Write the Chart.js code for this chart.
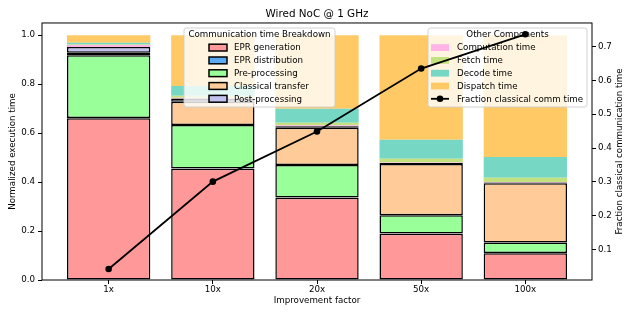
<!DOCTYPE html>
<html>
<head>
<meta charset="utf-8">
<script src="https://cdn.jsdelivr.net/npm/chart.js@4.4.0/dist/chart.umd.min.js"></script>
<style>
  body { margin: 0; background: #fff; }
  #wrap { width: 634px; height: 317px; }
</style>
</head>
<body>
<div id="wrap"><canvas id="chart1" width="634" height="317"></canvas></div>
<script>
const categories = ['1x', '10x', '20x', '50x', '100x'];

// communication time breakdown (left axis, normalized)
const eprGen    = [0.661, 0.454, 0.336, 0.189, 0.109];
const eprDist   = [0.001, 0.001, 0.001, 0.001, 0.001];
const preProc   = [0.256, 0.178, 0.133, 0.075, 0.043];
const classical = [0.010, 0.095, 0.152, 0.209, 0.242];
const postProc  = [0.024, 0.013, 0.006, 0.004, 0.003];

// other components
const computeT  = [0.008, 0.004, 0.004, 0.002, 0.002];
const fetchT    = [0.002, 0.008, 0.010, 0.015, 0.018];
const decodeT   = [0.007, 0.040, 0.058, 0.078, 0.085];
const dispatchT = [0.031, 0.207, 0.300, 0.427, 0.497];

// right axis
const fracComm = [0.043, 0.301, 0.449, 0.635, 0.736];

const leftTicks = [0, 0.2, 0.4, 0.6, 0.8, 1.0];
const rightTicks = [0.1, 0.2, 0.3, 0.4, 0.5, 0.6, 0.7];

const FONT = 'DejaVu Sans';
const FS = 8.7;

function pts(arr) {
    return arr.map((v, i) => ({x: i, y: v}));
}

function commBar(label, arr, color) {
    return {type: 'bar', label: label, data: pts(arr), backgroundColor: color,
        borderColor: '#000', borderWidth: 1.5, borderSkipped: false,
        yAxisID: 'y', stack: 's', legendGroup: 1};
}
function otherBar(label, arr, color) {
    return {type: 'bar', label: label, data: pts(arr), backgroundColor: color,
        borderWidth: 0, yAxisID: 'y', stack: 's', legendGroup: 2};
}

const datasets = [
    commBar('EPR generation', eprGen, '#ff9999'),
    commBar('EPR distribution', eprDist, '#5aa9f2'),
    commBar('Pre-processing', preProc, '#99ff99'),
    commBar('Classical transfer', classical, '#ffcc99'),
    commBar('Post-processing', postProc, '#c2c2f0'),
    otherBar('Computation time', computeT, '#ffb3e6'),
    otherBar('Fetch time', fetchT, '#c4e17f'),
    otherBar('Decode time', decodeT, '#76d7c4'),
    otherBar('Dispatch time', dispatchT, '#ffc966'),
    {type: 'line', label: 'Fraction classical comm time', data: pts(fracComm),
        borderColor: '#000', backgroundColor: '#000', borderWidth: 1.8,
        pointRadius: 3.3, pointBorderWidth: 0, yAxisID: 'y1', order: -1, legendGroup: 2}
];

function roundRect(ctx, x, y, w, h, r) {
    ctx.beginPath();
    ctx.moveTo(x + r, y);
    ctx.lineTo(x + w - r, y);
    ctx.arcTo(x + w, y, x + w, y + r, r);
    ctx.lineTo(x + w, y + h - r);
    ctx.arcTo(x + w, y + h, x + w - r, y + h, r);
    ctx.lineTo(x + r, y + h);
    ctx.arcTo(x, y + h, x, y + h - r, r);
    ctx.lineTo(x, y + r);
    ctx.arcTo(x, y, x + r, y, r);
    ctx.closePath();
}

function drawLegend(ctx, chart, group, title, box, patchX, textX) {
    ctx.save();
    roundRect(ctx, box.x, box.y, box.w, box.h, 2.5);
    ctx.fillStyle = 'rgba(255,255,255,0.8)';
    ctx.fill();
    ctx.strokeStyle = 'rgba(204,204,204,0.9)';
    ctx.lineWidth = 1;
    ctx.stroke();
    ctx.font = FS + 'px "' + FONT + '"';
    ctx.fillStyle = '#000';
    ctx.textBaseline = 'middle';
    ctx.textAlign = 'center';
    ctx.fillText(title, box.x + box.w / 2, box.y + 6.8);
    ctx.textAlign = 'left';
    let y = box.y + 19.6;
    chart.data.datasets.forEach((ds) => {
        if (ds.legendGroup !== group) return;
        if (ds.type === 'line') {
            ctx.strokeStyle = '#000';
            ctx.lineWidth = 1.8;
            ctx.beginPath();
            ctx.moveTo(patchX, y);
            ctx.lineTo(patchX + 18, y);
            ctx.stroke();
            ctx.beginPath();
            ctx.arc(patchX + 9, y, 3.3, 0, Math.PI * 2);
            ctx.fillStyle = '#000';
            ctx.fill();
        } else {
            ctx.fillStyle = ds.backgroundColor;
            ctx.fillRect(patchX, y - 3.4, 18, 6.8);
            if (ds.borderWidth > 0) {
                ctx.strokeStyle = '#000';
                ctx.lineWidth = 1.5;
                ctx.strokeRect(patchX, y - 3.4, 18, 6.8);
            }
        }
        ctx.fillStyle = '#000';
        ctx.fillText(ds.label, textX, y + 0.5);
        y += 12.8;
    });
    ctx.restore();
}

const extrasPlugin = {
    id: 'extras',
    beforeDatasetDraw(chart, args) {
        // legends sit above the bars but under the line
        if (chart.data.datasets[args.index].type !== 'line') return;
        const ctx = chart.ctx;
        drawLegend(ctx, chart, 1, 'Communication time Breakdown',
            {x: 184, y: 28, w: 151, h: 79}, 209, 234);
        drawLegend(ctx, chart, 2, 'Other Components',
            {x: 428, y: 28, w: 159, h: 79}, 431, 457);
    },
    afterDraw(chart) {
        const ctx = chart.ctx;
        const a = chart.chartArea;
        ctx.save();
        ctx.strokeStyle = '#000';
        ctx.lineWidth = 1;
        ctx.strokeRect(a.left, a.top, a.right - a.left, a.bottom - a.top);
        ctx.font = FS + 'px "' + FONT + '"';
        ctx.fillStyle = '#000';
        ctx.textAlign = 'center';
        ctx.textBaseline = 'middle';
        const midY = (a.top + a.bottom) / 2;
        ctx.fillText('Improvement factor', (a.left + a.right) / 2, 301);
        ctx.translate(13, midY);
        ctx.rotate(-Math.PI / 2);
        ctx.fillText('Normalized execution time', 0, 0);
        ctx.restore();
        ctx.save();
        ctx.font = FS + 'px "' + FONT + '"';
        ctx.fillStyle = '#000';
        ctx.textAlign = 'center';
        ctx.textBaseline = 'middle';
        ctx.translate(620, midY);
        ctx.rotate(-Math.PI / 2);
        ctx.fillText('Fraction classical communication time', 0, 0);
        ctx.restore();
    }
};

const tickFont = {family: FONT, size: FS};

const ctx1 = document.getElementById('chart1').getContext('2d');
const chart1 = new Chart(ctx1, {
    data: {datasets: datasets},
    options: {
        responsive: false,
        animation: false,
        layout: {padding: 0},
        categoryPercentage: 0.8,
        barPercentage: 1.0,
        plugins: {
            legend: {display: false},
            tooltip: {enabled: false},
            title: {
                display: true,
                text: 'Wired NoC @ 1 GHz',
                color: '#000',
                font: {family: FONT, size: 10.4, weight: 'normal', lineHeight: 1.2},
                padding: {top: 8, bottom: 2.5}
            }
        },
        scales: {
            x: {
                type: 'linear',
                min: -0.64,
                max: 4.64,
                offset: false,
                stacked: true,
                afterBuildTicks: (s) => { s.ticks = categories.map((c, i) => ({value: i})); },
                afterFit: (s) => { s.height = 37; },
                ticks: {
                    callback: (v) => categories[v],
                    color: '#000', font: tickFont, padding: 1,
                    maxRotation: 0, autoSkip: false
                },
                grid: {display: true, offset: false, drawOnChartArea: false, drawTicks: true, tickLength: 4, color: '#000'},
                border: {display: false}
            },
            y: {
                position: 'left',
                stacked: true,
                min: 0,
                max: 1.05,
                afterBuildTicks: (s) => { s.ticks = leftTicks.map((v) => ({value: v})); },
                afterFit: (s) => { s.width = 42; },
                ticks: {callback: (v) => v.toFixed(1), color: '#000', font: tickFont, padding: 3},
                grid: {display: true, drawOnChartArea: false, drawTicks: true, tickLength: 4, color: '#000'},
                border: {display: false}
            },
            y1: {
                position: 'right',
                stacked: false,
                min: 0.0105,
                max: 0.7695,
                afterBuildTicks: (s) => { s.ticks = rightTicks.map((v) => ({value: v})); },
                afterFit: (s) => { s.width = 42; },
                ticks: {callback: (v) => v.toFixed(1), color: '#000', font: tickFont, padding: 2},
                grid: {display: true, drawOnChartArea: false, drawTicks: true, tickLength: 4, color: '#000'},
                border: {display: false}
            }
        }
    },
    plugins: [extrasPlugin]
});
</script>
</body>
</html>
